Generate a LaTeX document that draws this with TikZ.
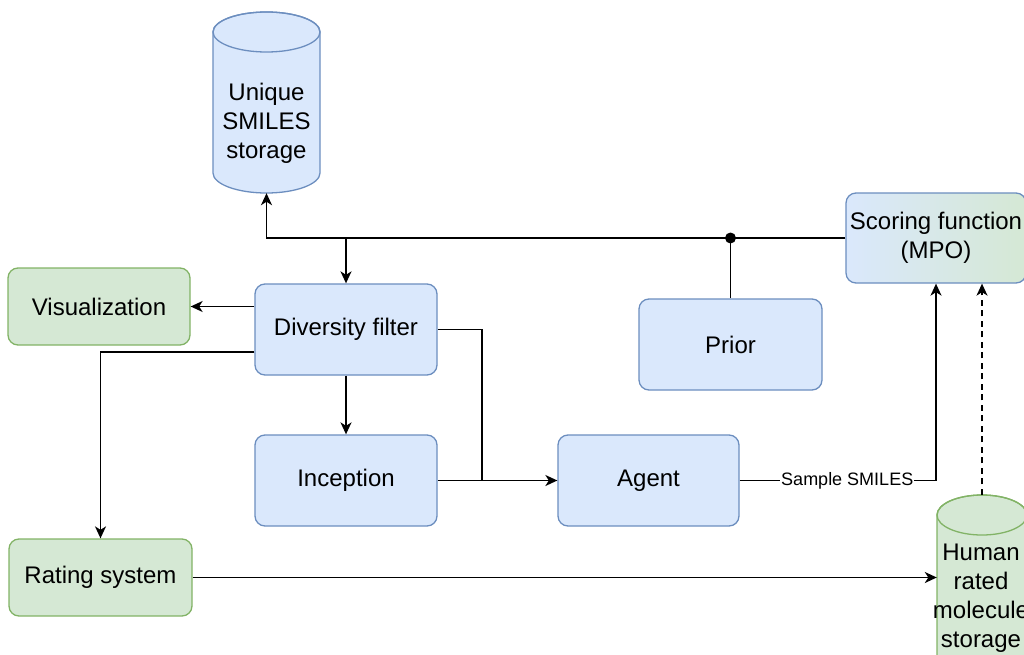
\documentclass[tikz,border=0pt]{standalone}
\usepackage{fontspec}
\setmainfont{Liberation Sans}
\usetikzlibrary{arrows.meta}
\definecolor{blueF}{HTML}{DAE8FC}
\definecolor{blueS}{HTML}{6C8EBF}
\definecolor{greenF}{HTML}{D5E8D4}
\definecolor{greenS}{HTML}{82B366}
\tikzset{
  box/.style={rectangle, rounded corners=10pt, line width=1.3pt, align=center, font=\fontsize{24}{29}\selectfont, inner sep=0pt},
  bluebox/.style={box, draw=blueS, fill=blueF},
  greenbox/.style={box, draw=greenS, fill=greenF},
  conn/.style={line width=1.6pt, black},
  arr/.style={conn, -{Stealth[length=12pt, width=11pt, inset=3.5pt]}},
  cyltext/.style={align=center, font=\fontsize{24}{29}\selectfont, inner sep=0pt},
  slabel/.style={font=\fontsize{18}{20}\selectfont, fill=white, inner sep=1pt},
}
\begin{document}
\begin{tikzpicture}[x=1pt,y=-1pt]
\useasboundingbox (0,0) rectangle (1024,655);
\clip (0,0) rectangle (1024,655);
% cylinder: Unique SMILES storage
\path[fill=blueF, draw=blueS, line width=1.3pt] (213,32) -- (213,173) arc[start angle=180, end angle=0, x radius=53.5, y radius=20] -- (320,32) arc[start angle=0, end angle=-180, x radius=53.5, y radius=20] -- cycle;
\draw[blueS, line width=1.3pt] (266.5,32) ellipse[x radius=53.5, y radius=20];
\node[minimum width=107pt, minimum height=181pt, inner sep=0pt] (uss) at (266.5,102.5) {};
\node[cyltext] (usstext) at (266.5,123) {Unique\\SMILES\\storage};
% cylinder: Human rated molecule storage
\path[fill=greenF, draw=greenS, line width=1.3pt] (937,515) -- (937,660) arc[start angle=180, end angle=0, x radius=45, y radius=20] -- (1027,515) arc[start angle=0, end angle=-180, x radius=45, y radius=20] -- cycle;
\draw[greenS, line width=1.3pt] (982,515) ellipse[x radius=45, y radius=20];
\node[minimum width=90pt, minimum height=180pt, inner sep=0pt] (hrm) at (982,585) {};
\node[cyltext] (hrmtext) at (981,598) {Human\\rated\\molecule\\storage};
% boxes
\node[box, draw=blueS, left color=blueF, right color=greenF, minimum width=180pt, minimum height=90pt] (score) at (936,238) {Scoring function\\(MPO)};
\node[bluebox, minimum width=182pt, minimum height=91pt] (div) at (346,329.5) {Diversity filter};
\node[greenbox, minimum width=182pt, minimum height=77pt] (vis) at (99,306.5) {Visualization};
\node[bluebox, minimum width=183pt, minimum height=91pt] (prior) at (730.5,344.5) {Prior};
\node[bluebox, minimum width=182pt, minimum height=91pt] (inc) at (346,480.5) {Inception};
\node[bluebox, minimum width=181pt, minimum height=91pt] (agent) at (648.5,480.5) {Agent};
\node[greenbox, minimum width=183pt, minimum height=77pt] (rating) at (100.5,577.5) {Rating system};
% connectors
\draw[arr] (score.west) -| (uss.south);
\draw[arr] (div.north |- score.west) -- (div.north);
\draw[conn] (prior.north) -- (prior.north |- score.west);
\fill (prior.north |- score.west) circle[radius=5.5pt];
\draw[arr] (vis.east -| div.west) -- (vis.east);
\coordinate (dl) at (div.west |- 0,352);
\draw[arr] (dl) -| (rating.north);
\draw[arr] (div.south) -- (inc.north);
\coordinate (j) at (482,480.5);
\draw[conn] (div.east) -| (j);
\draw[arr] (inc.east) -- (agent.west);
\draw[arr] (agent.east) -| node[slabel, pos=0.274] {Sample SMILES} (score.south);
\draw[arr] (rating.east) -- (rating.east -| hrm.west);
\draw[arr, dash pattern=on 6pt off 4.5pt] (hrm.north) -- (hrm.north |- score.south);
\end{tikzpicture}
\end{document}
